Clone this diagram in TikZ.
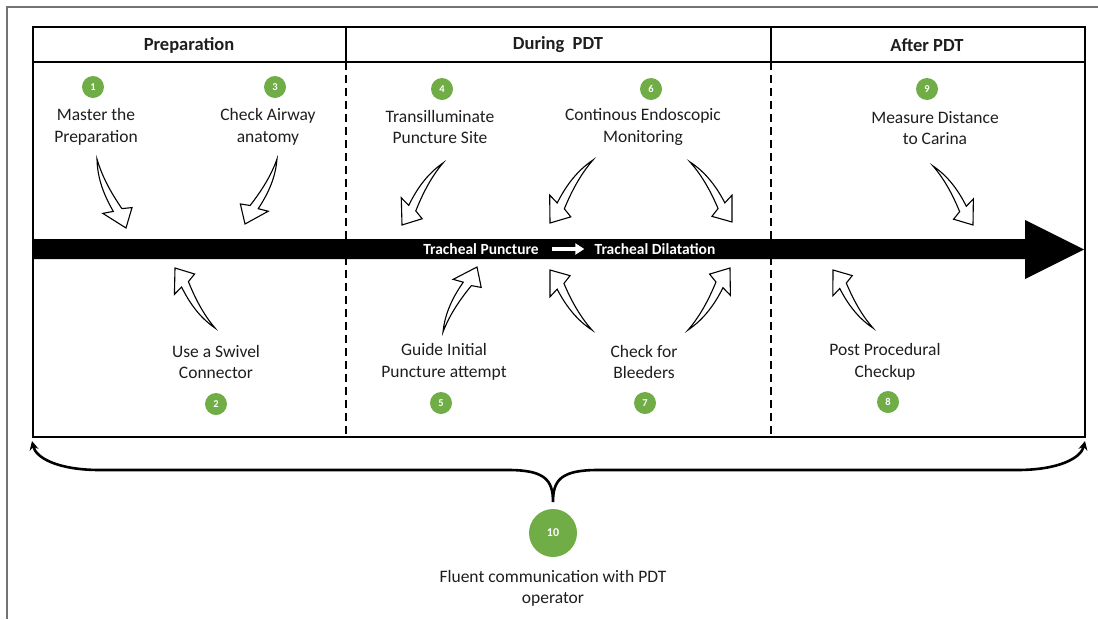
\documentclass[tikz,border=0pt]{standalone}
\usepackage{fontspec}
\setmainfont{Carlito}
\usepackage{tikz}
\usetikzlibrary{positioning,arrows.meta,calc}
\definecolor{dotgreen}{RGB}{112,173,71}
\definecolor{txtgray}{RGB}{30,30,30}
\tikzset{every picture/.style={line width=0.8pt}}

% hollow bent block arrow from a tail coordinate to a tip coordinate
\newcommand{\bentarrow}[3]{%
    \path[hollow] let \p1=(#1), \p2=(#2),
        \n1={atan2(\y2-\y1,\x2-\x1)}, \n2={veclen(\x2-\x1,\y2-\y1)} in
        [shift={(\p1)}, rotate=\n1, x=\n2, y=\n2, yscale=#3]
        (0,0) .. controls (0.25,0.1) and (0.5,0.1) .. (0.73,0.07)
        -- (0.70,0.21) -- (1,0) -- (0.78,-0.18) -- (0.74,-0.05)
        .. controls (0.5,0) and (0.25,0.03) .. (0,0) -- cycle;}

\begin{document}
\begin{tikzpicture}[x=1pt, y=-1pt,
    hdr/.style={text=txtgray, font=\fontsize{18.5}{22}\selectfont\bfseries},
    lbl/.style={align=center, text=txtgray, font=\fontsize{17.5}{21.5}\selectfont},
    numdot/.style={circle, fill=dotgreen, text=white, minimum size=22pt, inner sep=0pt, font=\fontsize{10.5}{12}\selectfont\bfseries},
    bartext/.style={text=white, inner sep=0pt, font=\fontsize{15.5}{18}\selectfont\bfseries},
    hollow/.style={draw=black, fill=white, line width=1.1pt, line join=miter},
    brace/.style={line width=2.6pt, {Stealth[length=9pt,width=9pt]}-{Stealth[length=9pt,width=9pt]}},
    grid/.style={line width=1.8pt}]
    \useasboundingbox (0,0) rectangle (1098,619);

    % outer frame
    \draw[black!55, line width=1.2pt] (7,619) -- (7,7) -- (1098,7);

    % phase table
    \draw[grid] (33,27) rectangle (1085,437);
    \draw[grid] (33,62) -- (1085,62);
    \draw[grid] (346,27) -- (346,62);
    \draw[grid] (771,27) -- (771,62);
    \draw[grid, dash pattern=on 8pt off 5pt] (346,62) -- (346,437);
    \draw[grid, dash pattern=on 8pt off 5pt] (771,62) -- (771,437);

    \node[hdr] (prep) at (189,45) {Preparation};
    \node[hdr] (during) at (558,45) {During\ \ PDT};
    \node[hdr] (after) at (927,45) {After PDT};

    % timeline arrow
    \fill (33,239) -- (1025,239) -- (1025,220) -- (1084,249.5) -- (1025,279) -- (1025,259) -- (33,259) -- cycle;
    \node[bartext] (punct) at (481,249) {Tracheal Puncture};
    \node[bartext] (dilat) at (655,249) {Tracheal Dilatation};
    \draw[white, line width=4pt, -{Triangle[length=9pt,width=11pt]}, shorten <=13pt, shorten >=10pt] (punct) -- (dilat);

    % steps above the timeline
    \node[numdot] (n1) at (93,87) {1};
    \node[lbl] (l1) at (96,127) {Master the\\Preparation};
    \node[numdot] (n3) at (275,87) {3};
    \node[lbl] (l3) at (268,127) {Check Airway\\anatomy};
    \node[numdot] (n4) at (442,89) {4};
    \node[lbl] (l4) at (440,127) {Transilluminate\\Puncture Site};
    \node[numdot] (n6) at (651,89) {6};
    \node[lbl] (l6) at (643,127) {Continous Endoscopic\\Monitoring};
    \node[numdot] (n9) at (927,89) {9};
    \node[lbl] (l9) at (935,128) {Measure Distance\\to Carina};

    % steps below the timeline
    \node[lbl] (l2) at (216,362) {Use a Swivel\\Connector};
    \node[numdot] (n2) at (216,404) {2};
    \node[lbl] (l5) at (444,362) {Guide Initial\\Puncture attempt};
    \node[numdot] (n5) at (441,403) {5};
    \node[lbl] (l7) at (644,362) {Check for\\Bleeders};
    \node[numdot] (n7) at (645,403) {7};
    \node[lbl] (l8) at (885,362) {Post Procedural\\Checkup};
    \node[numdot] (n8) at (888,402) {8};

    % arrow ends
    \coordinate (a1s) at (97,159);  \coordinate (a1e) at (126,228);
    \coordinate (a3s) at (277,159); \coordinate (a3e) at (245,224);
    \coordinate (a4s) at (443,163); \coordinate (a4e) at (402,225);
    \coordinate (a6s) at (593,160); \coordinate (a6e) at (550,223);
    \coordinate (b6s) at (690,162); \coordinate (b6e) at (732,222);
    \coordinate (a9s) at (933,166); \coordinate (a9e) at (973,225);
    \coordinate (a2s) at (215,328); \coordinate (a2e) at (175,268);
    \coordinate (a5s) at (443,332); \coordinate (a5e) at (477,267);
    \coordinate (a7s) at (592,330); \coordinate (a7e) at (550,270);
    \coordinate (b7s) at (688,330); \coordinate (b7e) at (730,268);
    \coordinate (a8s) at (873,328); \coordinate (a8e) at (833,270);

    \bentarrow{a1s}{a1e}{-1}
    \bentarrow{a3s}{a3e}{1}
    \bentarrow{a4s}{a4e}{-1}
    \bentarrow{a6s}{a6e}{-1}
    \bentarrow{b6s}{b6e}{1}
    \bentarrow{a9s}{a9e}{1}
    \bentarrow{a2s}{a2e}{1}
    \bentarrow{a5s}{a5e}{1}
    \bentarrow{a7s}{a7e}{1}
    \bentarrow{b7s}{b7e}{-1}
    \bentarrow{a8s}{a8e}{1}

    % communication brace
    \coordinate (bl) at (32,441);
    \coordinate (br) at (1085,441);
    \coordinate (cusp) at (553,502);
    \draw[brace] (bl) .. controls (36,458) and (58,470) .. (100,470) -- (508,470)
        .. controls (545,470) and (553,480) .. (cusp)
        .. controls (553,480) and (561,470) .. (598,470) -- (1017,470)
        .. controls (1059,470) and (1081,458) .. (br);

    \node[numdot, minimum size=48pt, font=\fontsize{12}{14}\selectfont\bfseries] (n10) at (553,533) {10};
    \node[lbl, below=9pt of n10] (l10) {Fluent communication with PDT\\operator};
\end{tikzpicture}
\end{document}
